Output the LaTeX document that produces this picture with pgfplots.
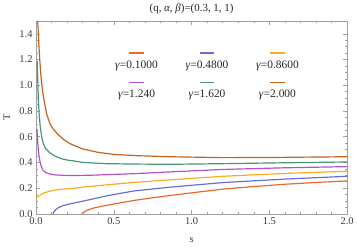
\documentclass[border=0pt]{standalone}
\usepackage{pgfplots}
\pgfplotsset{compat=1.18}
\usepackage{fontspec}
\setmainfont{Liberation Serif}
\definecolor{c1}{RGB}{235,105,45}
\definecolor{c2}{RGB}{105,110,215}
\definecolor{c3}{RGB}{250,170,30}
\definecolor{c4}{RGB}{180,80,200}
\definecolor{c5}{RGB}{70,150,120}
\definecolor{c6}{RGB}{195,100,30}
\definecolor{frm}{RGB}{160,160,160}
\definecolor{lbl}{RGB}{60,60,60}
\newcommand{\legcell}[2]{\tikz[baseline=0pt]\draw[#1, line width=1.6pt] (0,0.8pt) -- (15pt,0.8pt);\\[1.5pt]\textit{γ}=#2}
\begin{document}
\begin{tikzpicture}
\begin{axis}[
  name=ax, scale only axis, width=313pt, height=194pt,
  xmin=0, xmax=2, ymin=0, ymax=1.5,
  xtick={0,0.5,1,1.5,2}, ytick={0,0.2,0.4,0.6,0.8,1.0,1.2,1.4},
  minor x tick num=4, minor y tick num=3,
  /pgf/number format/assume math mode=true,
  /pgf/number format/fixed, /pgf/number format/fixed zerofill, /pgf/number format/precision=1,
  tick align=inside, major tick length=4pt, minor tick length=2pt,
  axis line style={frm}, every tick/.style={frm},
  ticklabel style={font=\fontsize{10.5}{12}\selectfont, text=lbl},
  xlabel={s}, ylabel={T},
  label style={font=\fontsize{10.5}{12}\selectfont, text=lbl},
  xlabel style={at={(axis description cs:0.5,0)}, anchor=base, yshift=-29pt},
  ylabel style={at={(axis description cs:0,0.5)}, anchor=base, yshift=26pt},
  title={(q, \textit{α}, \textit{β})=(0.3, 1, 1)},
  title style={at={(axis description cs:0.5,1)}, anchor=base, yshift=4pt, font=\fontsize{11}{13}\selectfont, text=black!85},
  legend image code/.code={},
  legend columns=3,
  legend style={at={(axis cs:1.099,1.075)}, anchor=center, draw=none, fill=none,
    font=\fontsize{11.5}{13}\selectfont, text=black!85,
    cells={align=center},
    /tikz/every odd column/.append style={column sep=0pt},
    /tikz/every even column/.append style={column sep=24pt},
    /tikz/row sep=8pt},
  every axis plot/.append style={line width=1.2pt},
]
\addplot[c1] coordinates {
(0.296,0.0) (0.31,0.015) (0.33,0.028) (0.37,0.045) (0.42,0.058) (0.473,0.07)
(0.55,0.087) (0.63,0.104) (0.75,0.125) (0.86,0.142) (1.0,0.163) (1.2,0.192)
(1.4,0.212) (1.6,0.230) (1.8,0.244) (2.0,0.256)};
\addlegendentry{\legcell{c1}{0.1000}}
\addplot[c2] coordinates {
(0.109,0.0) (0.115,0.015) (0.125,0.03) (0.14,0.045) (0.17,0.062) (0.21,0.075)
(0.25,0.085) (0.30,0.098) (0.40,0.125) (0.47,0.143) (0.63,0.178) (0.86,0.207)
(1.2,0.243) (1.6,0.270) (2.0,0.292)};
\addlegendentry{\legcell{c2}{0.4800}}
\addplot[c3] coordinates {
(0.0,0.118) (0.01,0.13) (0.025,0.145) (0.05,0.162) (0.088,0.176) (0.15,0.19)
(0.25,0.200) (0.30,0.207) (0.47,0.227) (0.63,0.244) (0.86,0.264) (1.2,0.292)
(1.6,0.314) (2.0,0.331)};
\addlegendentry{\legcell{c3}{0.8600}}
\addplot[c4] coordinates {
(0.006,0.66) (0.01,0.58) (0.015,0.50) (0.02,0.445) (0.027,0.40) (0.035,0.365)
(0.045,0.34) (0.06,0.322) (0.088,0.31) (0.12,0.303) (0.18,0.299) (0.25,0.298)
(0.35,0.300) (0.47,0.305) (0.63,0.312) (0.86,0.326) (1.2,0.345) (1.6,0.358) (2.0,0.367)};
\addlegendentry{\legcell{c4}{1.240}}
\addplot[c5] coordinates {
(0.008,1.19) (0.011,1.05) (0.015,0.90) (0.02,0.78) (0.027,0.68) (0.035,0.61)
(0.045,0.555) (0.06,0.51) (0.088,0.475) (0.12,0.45) (0.16,0.43) (0.20,0.418)
(0.25,0.41) (0.30,0.40) (0.45,0.39) (0.63,0.387) (0.86,0.385) (1.2,0.39)
(1.6,0.397) (2.0,0.403)};
\addlegendentry{\legcell{c5}{1.620}}
\addplot[c6] coordinates {
(0.011,1.50) (0.015,1.40) (0.021,1.26) (0.028,1.13) (0.035,1.03) (0.045,0.93)
(0.055,0.86) (0.07,0.77) (0.09,0.70) (0.11,0.66) (0.14,0.62) (0.18,0.575)
(0.22,0.545) (0.30,0.504) (0.40,0.478) (0.50,0.462) (0.65,0.452) (0.86,0.444)
(1.05,0.440) (1.2,0.437) (1.5,0.438) (1.75,0.441) (2.0,0.444)};
\addlegendentry{\legcell{c6}{2.000}}
\end{axis}
\path (ax.south west) ++(-36pt,-35pt) coordinate (bl);
\path (ax.north east) ++(8pt,16pt) coordinate (tr);
\path[use as bounding box] (bl) rectangle (tr);
\end{tikzpicture}
\end{document}
